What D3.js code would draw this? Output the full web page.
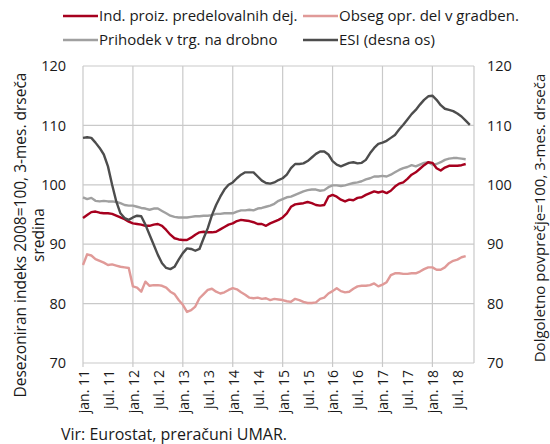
<!DOCTYPE html>
<html>
<head>
<meta charset="utf-8">
<script src="https://cdn.jsdelivr.net/npm/d3@7"></script>
<style>
  body { margin: 0; background: #fff; }
  svg text { font-family: "Open Sans", Lato, sans-serif; fill: #1a1a1a; }
</style>
</head>
<body>
<svg id="chart" width="550" height="444"></svg>
<script>
// monthly values, jan. 2011 onwards (3-month moving averages)
const ind = [
  94.4, 94.9, 95.4, 95.5, 95.3, 95.2, 95.2, 95.1, 94.8, 94.5, 94.2, 93.8,
  93.5, 93.4, 93.3, 93.1, 93.1, 93.3, 93.4, 93.1, 92.4, 91.6, 91.0, 90.8,
  90.7, 90.7, 91.1, 91.6, 92.0, 92.1, 92.0, 92.0, 92.1, 92.5, 92.9, 93.3,
  93.5, 93.9, 94.1, 94.0, 93.9, 93.7, 93.4, 93.4, 93.1, 93.5, 93.8, 94.1,
  94.5, 95.2, 96.3, 96.7, 96.8, 96.9, 97.1, 96.9, 96.6, 96.5, 96.6, 98.0,
  98.3, 98.0, 97.5, 97.2, 97.5, 97.4, 97.8, 97.9, 98.3, 98.6, 98.9, 98.7,
  98.9, 98.6, 99.0, 99.7, 100.2, 100.4, 101.0, 101.7, 102.1, 102.7, 103.3, 103.8,
  103.7, 102.8, 102.4, 102.9, 103.2, 103.2, 103.2, 103.3, 103.5
];
const gradbenistvo = [
  86.5, 88.3, 88.1, 87.5, 87.2, 86.9, 86.5, 86.6, 86.4, 86.2, 86.1, 86.0,
  82.9, 82.7, 82.0, 83.7, 83.0, 83.1, 83.1, 83.0, 82.7, 82.0, 81.6, 80.6,
  79.8, 78.6, 78.9, 79.5, 80.9, 81.6, 82.3, 82.5, 82.0, 81.7, 81.9, 82.3,
  82.6, 82.4, 81.9, 81.5, 81.0, 80.9, 81.0, 80.8, 80.9, 80.6, 80.8, 80.7,
  80.6, 80.4, 80.3, 80.8, 80.6, 80.3, 80.1, 80.1, 80.2, 80.8, 81.0, 81.7,
  82.1, 82.6, 82.1, 81.9, 82.0, 82.5, 82.9, 83.0, 83.0, 83.1, 83.4, 82.9,
  83.2, 83.6, 84.8, 85.1, 85.1, 85.0, 85.0, 85.1, 85.1, 85.4, 85.8, 86.1,
  86.1, 85.7, 85.7, 86.1, 86.8, 87.2, 87.4, 87.8, 88.0
];
const trgovina = [
  97.9, 97.6, 97.8, 97.3, 97.2, 97.3, 97.2, 97.2, 97.1, 96.9, 96.6, 96.5,
  96.5, 96.3, 96.1, 96.0, 95.8, 96.0, 96.0, 95.6, 95.2, 94.8, 94.6, 94.5,
  94.5, 94.5, 94.6, 94.7, 94.7, 94.8, 94.8, 94.9, 95.1, 95.1, 95.2, 95.2,
  95.2, 95.5, 95.7, 95.7, 95.8, 95.7, 96.0, 96.1, 96.3, 96.5, 96.8, 97.3,
  97.6, 97.9, 98.0, 98.3, 98.6, 98.9, 99.1, 99.2, 99.2, 99.0, 99.1, 99.6,
  99.9, 99.9, 99.8, 99.9, 100.1, 100.3, 100.4, 100.6, 100.9, 101.1, 101.4, 101.4,
  101.5, 101.4, 101.7, 102.1, 102.5, 102.8, 103.0, 103.3, 103.1, 103.4, 103.7, 103.8,
  103.4, 103.5, 103.8, 104.2, 104.4, 104.5, 104.5, 104.4, 104.3
];
const esi = [
  107.9, 108.0, 107.9, 107.1, 106.2, 105.1, 103.1, 100.0, 97.2, 95.2, 94.4, 94.1,
  94.5, 94.8, 94.7, 93.3, 91.6, 89.9, 88.2, 86.8, 86.0, 85.8, 86.2, 87.4,
  88.5, 89.3, 89.2, 88.9, 89.2, 91.0, 92.7, 94.9, 96.6, 98.0, 99.2, 100.0,
  100.4, 101.1, 101.7, 102.1, 102.1, 102.1, 101.4, 100.7, 100.3, 100.2, 100.4, 100.8,
  101.1, 101.7, 102.8, 103.5, 103.5, 103.6, 104.0, 104.6, 105.2, 105.6, 105.6, 105.1,
  104.0, 103.4, 103.1, 103.4, 103.7, 103.8, 103.6, 103.7, 104.2, 105.3, 106.2, 106.9,
  107.1, 107.4, 107.9, 108.4, 109.3, 110.1, 111.0, 111.9, 112.6, 113.5, 114.3, 114.9,
  115.0, 114.3, 113.4, 112.8, 112.6, 112.4, 112.0, 111.5, 110.8, 110.1
];

const tickLabels = ["jan. 11", "jul. 11", "jan. 12", "jul. 12", "jan. 13", "jul. 13",
  "jan. 14", "jul. 14", "jan. 15", "jul. 15", "jan. 16", "jul. 16",
  "jan. 17", "jul. 17", "jan. 18", "jul. 18"];
const yTicks = [70, 80, 90, 100, 110, 120];

const seriesNames = ["Ind. proiz. predelovalnih dej.", "Obseg opr. del v gradben.",
  "Prihodek v trg. na drobno", "ESI (desna os)"];
const colors = ["#a6001e", "#e09a98", "#a0a0a0", "#4d4d4d"];

const svg = d3.select("#chart");
const pLeft = 83, pRight = 474, pTop = 66, pBottom = 363;

const x = d3.scaleLinear().domain([0, 94]).range([pLeft, pRight]);
const yL = d3.scaleLinear().domain([70, 120]).range([pBottom, pTop]);
const yR = d3.scaleLinear().domain([70, 120]).range([pBottom, pTop]);

// grid
const grid = svg.append("g").attr("stroke", "#c9c9c9").attr("stroke-width", 1.2);
grid.selectAll("line.h").data(yTicks).enter().append("line")
  .attr("x1", pLeft).attr("x2", pRight)
  .attr("y1", d => yL(d)).attr("y2", d => yL(d));
const janIdx = d3.range(0, 96, 12);
grid.selectAll("line.v").data(janIdx).enter().append("line")
  .attr("x1", d => x(d)).attr("x2", d => x(d))
  .attr("y1", pTop).attr("y2", pBottom + 4);
grid.append("line").attr("x1", pRight).attr("x2", pRight).attr("y1", pTop).attr("y2", pBottom);

// axes
const axL = svg.append("g").attr("transform", `translate(${pLeft},0)`)
  .call(d3.axisLeft(yL).tickValues(yTicks).tickSize(0).tickPadding(17));
const axR = svg.append("g").attr("transform", `translate(${pRight},0)`)
  .call(d3.axisRight(yR).tickValues(yTicks).tickSize(0).tickPadding(13));
[axL, axR].forEach(a => {
  a.select(".domain").remove();
  a.selectAll("text").style("font-size", "14.5px").attr("fill", "#1a1a1a");
});

svg.append("g").selectAll("text").data(tickLabels).enter().append("text")
  .attr("transform", (d, i) => `translate(${x(i * 6) + 1},370) rotate(-90)`)
  .attr("text-anchor", "end").attr("dy", "0.35em")
  .style("font-size", "14px")
  .text(d => d);

// lines
const lineL = d3.line().x((d, i) => x(i)).y(d => yL(d));
const lineR = d3.line().x((d, i) => x(i)).y(d => yR(d));
[[gradbenistvo, 1], [trgovina, 2], [ind, 0]].forEach(([s, k]) => {
  svg.append("path").datum(s).attr("d", lineL)
    .attr("fill", "none").attr("stroke", colors[k]).attr("stroke-width", 2.4)
    .attr("stroke-linejoin", "round");
});
svg.append("path").datum(esi).attr("d", lineR)
  .attr("fill", "none").attr("stroke", colors[3]).attr("stroke-width", 2.4)
  .attr("stroke-linejoin", "round");

// legend
const legPos = [[63, 16], [303, 16], [63, 40], [303, 40]];
const leg = svg.append("g").selectAll("g").data(seriesNames).enter().append("g")
  .attr("transform", (d, i) => `translate(${legPos[i][0]},${legPos[i][1]})`);
leg.append("line").attr("x1", 0).attr("x2", 35)
  .attr("stroke", (d, i) => colors[i]).attr("stroke-width", 2.4);
leg.append("text").attr("x", 36).attr("dy", "0.35em")
  .style("font-size", "15px").text(d => d);

// axis titles
svg.append("text").attr("transform", "translate(26,235) rotate(-90)")
  .attr("text-anchor", "middle").style("font-size", "15.5px")
  .text("Desezoniran indeks 2008=100, 3-mes. drseča");
svg.append("text").attr("transform", "translate(44,235) rotate(-90)")
  .attr("text-anchor", "middle").style("font-size", "15.5px")
  .text("sredina");
svg.append("text").attr("transform", "translate(545,218) rotate(-90)")
  .attr("text-anchor", "middle").style("font-size", "15px")
  .text("Dolgoletno povprečje=100, 3-mes. drseča");

svg.append("text").attr("x", 61).attr("y", 440)
  .style("font-size", "16px").text("Vir: Eurostat, preračuni UMAR.");
</script>
</body>
</html>
